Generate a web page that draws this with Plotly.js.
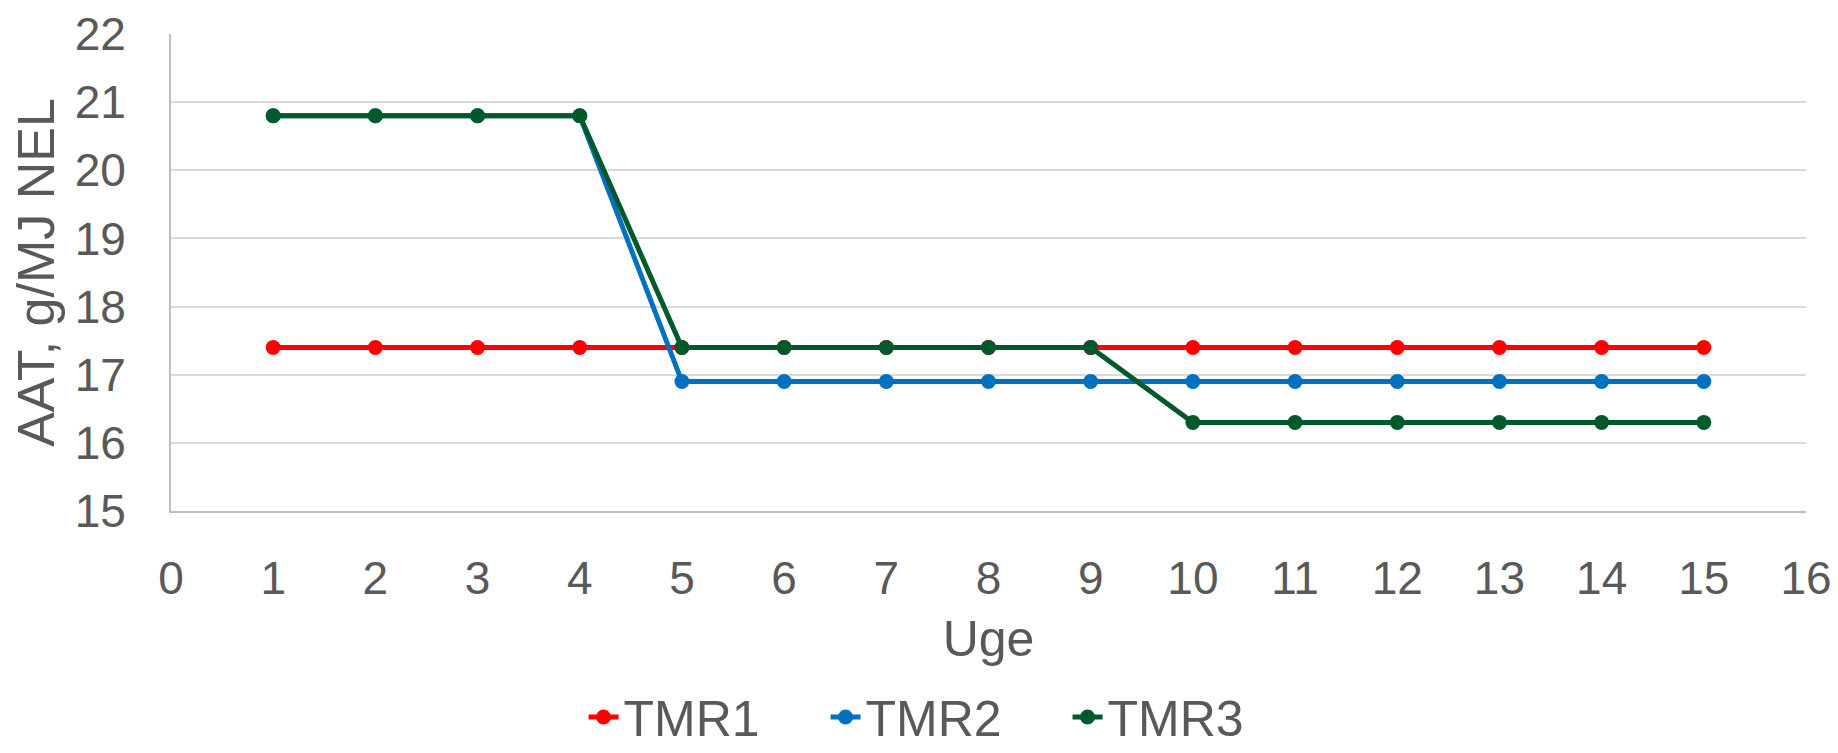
<!DOCTYPE html>
<html>
<head>
<meta charset="utf-8">
<script src="https://cdn.plot.ly/plotly-3.0.1.min.js"></script>
<style>html,body{margin:0;padding:0;background:#fff;}#chart{width:1838px;height:753px;}</style>
</head>
<body>
<div id="chart"></div>
<script>
const weeks = [1,2,3,4,5,6,7,8,9,10,11,12,13,14,15];
const tmr1 = [17.4,17.4,17.4,17.4,17.4,17.4,17.4,17.4,17.4,17.4,17.4,17.4,17.4,17.4,17.4];
const tmr2 = [20.8,20.8,20.8,20.8,16.9,16.9,16.9,16.9,16.9,16.9,16.9,16.9,16.9,16.9,16.9];
const tmr3 = [20.8,20.8,20.8,20.8,17.4,17.4,17.4,17.4,17.4,16.3,16.3,16.3,16.3,16.3,16.3];
const seriesNames = ['TMR1','TMR2','TMR3'];
const seriesColors = ['#FF0000','#0070C0','#00592A'];
const xTitle = 'Uge';
const yTitle = 'AAT, g/MJ NEL';

const data = [tmr1, tmr2, tmr3].map((vals, i) => ({
  x: weeks, y: vals, name: seriesNames[i], type: 'scatter', mode: 'lines+markers',
  line: {color: seriesColors[i], width: 5},
  marker: {color: seriesColors[i], size: 15}
}));

const font = {family: 'Liberation Sans, Arial, sans-serif', color: '#595959'};
const layout = {
  width: 1838, height: 753,
  margin: {l: 171, r: 32, t: 34, b: 242, autoexpand: false},
  paper_bgcolor: '#fff', plot_bgcolor: '#fff',
  font: font,
  showlegend: true,
  legend: {orientation: 'h', xref: 'container', yref: 'paper', x: 0.515, xanchor: 'center', y: -0.35, yanchor: 'top',
           font: {family: font.family, color: '#595959', size: 50}, entrywidth: 197, tracegroupgap: 0},
  xaxis: {
    range: [0, 16], dtick: 1, tick0: 0, showgrid: false, zeroline: false,
    showline: true, linecolor: '#BFBFBF', linewidth: 2,
    ticks: '', ticklabelstandoff: 26,
    tickfont: {family: font.family, color: '#595959', size: 46},
    title: {text: xTitle, font: {family: font.family, color: '#595959', size: 50}, standoff: 18}
  },
  yaxis: {
    range: [15, 22], dtick: 1, tick0: 15, showgrid: true, gridcolor: '#D9D9D9', gridwidth: 2,
    zeroline: false, showline: true, linecolor: '#BFBFBF', linewidth: 2,
    ticks: '', ticklabelstandoff: 34,
    tickfont: {family: font.family, color: '#595959', size: 46},
    title: {text: yTitle, font: {family: font.family, color: '#595959', size: 52}, standoff: 3}
  }
};
Plotly.newPlot('chart', data, layout, {displayModeBar: false, staticPlot: true});
</script>
</body>
</html>
